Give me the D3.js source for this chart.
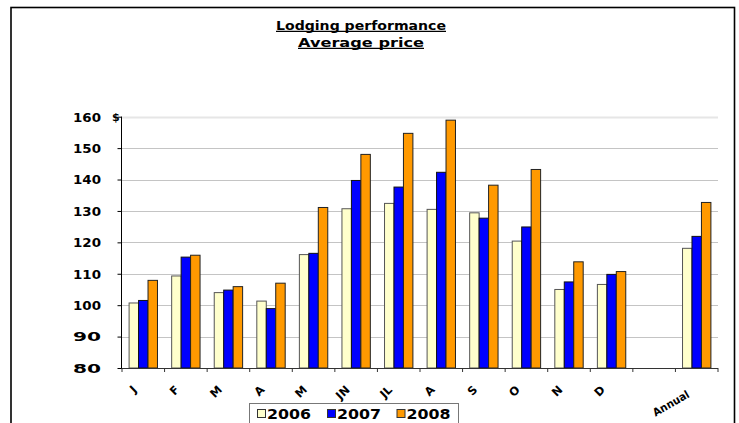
<!DOCTYPE html>
<html>
<head>
<meta charset="utf-8">
<script src="https://cdn.jsdelivr.net/npm/d3@7/dist/d3.min.js"></script>
<style>
html,body{margin:0;padding:0;background:#fff;}
svg{display:block;font-family:"DejaVu Sans",Verdana,sans-serif;font-weight:bold;}
</style>
</head>
<body>
<svg id="chart" width="739" height="423"></svg>
<script>
const categories = ["J","F","M","A","M","JN","JL","A","S","O","N","D","","Annual"];
const seriesNames = ["2006","2007","2008"];
const values2006 = [100.7,109.3,104.0,101.3,116.1,130.7,132.4,130.5,129.4,120.4,105.0,106.6,null,118.1];
const values2007 = [101.5,115.3,104.8,98.9,116.5,139.7,137.6,142.3,127.7,124.9,107.4,109.8,null,121.9];
const values2008 = [107.9,115.9,105.9,107.0,131.1,148.0,154.7,158.9,138.2,143.2,113.8,110.7,null,132.7];
const yTicks = [80,90,100,110,120,130,140,150,160];
const colors = ["#FFFFCC","#0000FF","#FF9900"];
const strokes = ["#555","#111","#222"];

(function(){
const svg = d3.select("#chart");
const series = [values2006, values2007, values2008];

// frame
svg.append("rect").attr("x",11).attr("y",7.5).attr("width",723.5).attr("height",500)
  .attr("fill","none").attr("stroke","#000").attr("stroke-width",1.6);

// title
const titles = [{t:"Lodging performance", y:29.5, w:170},{t:"Average price", y:46.5, w:126}];
titles.forEach(d=>{
  svg.append("text").attr("x",361).attr("y",d.y).attr("text-anchor","middle")
    .attr("font-size",11.5).attr("textLength",d.w).attr("lengthAdjust","spacingAndGlyphs")
    .attr("fill","#000").text(d.t);
  svg.append("line").attr("x1",361-d.w/2).attr("x2",361+d.w/2)
    .attr("y1",d.y+1.8).attr("y2",d.y+1.8).attr("stroke","#000").attr("stroke-width",1.2);
});

const pLeft = 122, pRight = 718, pTop = 116.7, pBottom = 368;
const x0 = d3.scaleBand().domain(d3.range(categories.length)).range([pLeft,pRight]).padding(0);
const bw = x0.bandwidth();
const x1 = d3.scaleBand().domain(d3.range(seriesNames.length)).range([bw/6, bw*5/6]).padding(0);
const y = d3.scaleLinear().domain([80,160]).range([pBottom, pTop]);

// gridlines
svg.append("g").selectAll("line").data(yTicks.filter(v=>v>80)).join("line")
  .attr("x1",pLeft).attr("x2",pRight)
  .attr("y1",d=>Math.round(y(d))+0.5).attr("y2",d=>Math.round(y(d))+0.5)
  .attr("stroke",d=>d===160?"#e6e6e6":"#c4c4c4").attr("stroke-width",d=>d===160?2:1.2);

// bars
const groups = svg.append("g").selectAll("g").data(categories.map((c,i)=>i)).join("g")
  .attr("transform",i=>`translate(${x0(i)},0)`);
groups.selectAll("rect").data(i=>series.map((s,k)=>({k, v:s[i]})).filter(d=>d.v!=null)).join("rect")
  .attr("x",d=>x1(d.k)).attr("width",x1.bandwidth())
  .attr("y",d=>y(d.v)).attr("height",d=>y(80)-y(d.v))
  .attr("fill",d=>colors[d.k]).attr("stroke",d=>strokes[d.k]).attr("stroke-width",1);

// y axis
const yAxis = d3.axisLeft(y).tickValues(yTicks).tickSize(4.5).tickPadding(0).tickFormat(d3.format("d"));
const gy = svg.append("g").attr("transform",`translate(${pLeft},0)`).call(yAxis);
gy.select(".domain").attr("stroke","#000").attr("d",`M-0.5,${pTop}V${pBottom}`);
gy.selectAll(".tick line").attr("stroke","#000");
gy.selectAll(".tick text").attr("x",-21).attr("dy","0.36em").attr("font-size",12)
  .attr("textLength",28).attr("lengthAdjust","spacingAndGlyphs")
  .attr("font-family","DejaVu Sans").attr("font-weight","bold").attr("fill","#000");
svg.append("text").attr("x",112).attr("y",y(160)+4.3).attr("font-size",11).attr("fill","#000").text("$");

// x axis
const xAxis = d3.axisBottom(x0).tickSize(0).tickFormat(i=>categories[i]);
const gx = svg.append("g").attr("transform",`translate(0,${pBottom})`).call(xAxis);
gx.select(".domain").attr("stroke","#333").attr("d",`M${pLeft},0.5H${pRight}`);
svg.append("g").selectAll("line").data(d3.range(categories.length+1)).join("line")
  .attr("x1",i=>pLeft+i*bw).attr("x2",i=>pLeft+i*bw).attr("y1",pBottom).attr("y2",pBottom+4)
  .attr("stroke","#333");
gx.selectAll(".tick text")
  .attr("font-family","DejaVu Sans").attr("font-weight","bold").attr("fill","#000")
  .attr("font-size",i=>i===13?11:11.5)
  .attr("text-anchor","end").attr("y",0)
  .attr("transform",function(i){ return i===13 ? "translate(-10.4,22) rotate(-30)" : "translate(-11.4,16.8) rotate(-45)"; })
  .attr("dy","0.7em")
  .each(function(i){ if(i===13) d3.select(this).attr("textLength",40).attr("lengthAdjust","spacingAndGlyphs"); });

// legend
const lg = svg.append("g");
lg.append("rect").attr("x",249.5).attr("y",403.5).attr("width",209).attr("height",30)
  .attr("fill","#fff").attr("stroke","#777").attr("stroke-width",1);
const legX = [257.5,327.5,397];
seriesNames.forEach((n,k)=>{
  lg.append("rect").attr("x",legX[k]).attr("y",409.5).attr("width",8).attr("height",8)
    .attr("fill",colors[k]).attr("stroke","#333").attr("stroke-width",1);
  lg.append("text").attr("x",legX[k]+9.5).attr("y",419.3).attr("font-size",14)
    .attr("textLength",44).attr("lengthAdjust","spacingAndGlyphs").attr("fill","#000").text(n);
});
})();
</script>
</body>
</html>
